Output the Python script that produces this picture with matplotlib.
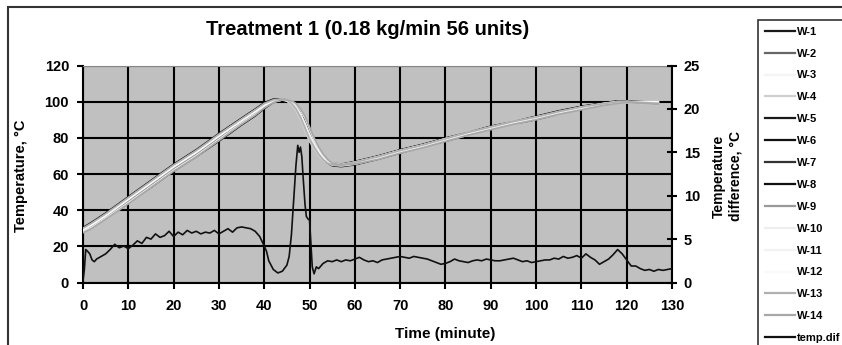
import matplotlib
matplotlib.use("Agg")
import matplotlib.pyplot as plt
from matplotlib.patches import Rectangle

plt.rcParams["font.family"] = ["Liberation Sans", "DejaVu Sans"]

# time axis for the W-series temperatures (minutes)
time_w = [0, 2, 5, 10, 15, 20, 25, 30, 35, 38, 40, 42, 44, 45, 46, 47, 48, 49, 50, 51,
          52, 53, 54, 55, 57, 60, 65, 70, 75, 80, 85, 90, 95, 100, 105, 110, 115, 118, 120, 124, 127]

w1 = [30, 33, 38, 47, 56, 65, 73, 82, 90, 95, 99, 101, 101.5, 101, 99, 96, 92, 86, 80, 75,
      71, 68, 66, 65, 65, 66, 69, 72.5, 76, 79, 82.5, 86, 88.5, 91, 94, 96.5, 99, 100, 100, 99.5, 99]
w2 = [29, 32, 37, 46, 55, 64, 72, 81, 89.5, 94.5, 98.5, 100.5, 101.5, 101, 100, 98, 95, 90, 84, 78,
      73, 69, 67, 65.5, 65, 66, 69, 72, 75.5, 79, 82, 85.5, 88, 91, 93.5, 96.5, 98.5, 99.5, 100, 99.5, 99]
w3 = [28, 31, 36, 44, 53, 62, 70, 79, 88, 93, 97, 100, 101, 101, 100, 97, 93, 87, 81, 76,
      72, 69, 66.5, 65, 64.5, 65.5, 68.5, 72, 75, 78.5, 82, 85, 88, 90.5, 93.5, 96, 98.5, 99.5, 99.5, 99, 98.5]
w4 = [29.5, 32.5, 37.5, 46.5, 55.5, 64.5, 72.5, 81.5, 90, 95, 98.5, 100.5, 101, 100.5, 98, 95, 90, 84, 78, 74,
      70, 67.5, 66, 65, 65, 66.5, 69.5, 73, 76, 79.5, 83, 86, 89, 91.5, 94.5, 97, 99, 100, 100, 99.5, 99]
w5 = [28.5, 31, 35.5, 44, 52.5, 61.5, 69.5, 78, 87, 92, 96, 99.5, 101, 101, 100.5, 98.5, 95, 90, 83, 77,
      72, 68.5, 66, 64.5, 64, 65, 68, 71.5, 75, 78, 81.5, 85, 87.5, 90, 93, 96, 98, 99, 99.5, 99, 98.5]
w6 = [30.5, 33.5, 38.5, 47.5, 56.5, 65.5, 73.5, 82.5, 91, 96, 99.5, 101.5, 101.5, 100.5, 98.5, 95.5, 91, 85, 79, 74.5,
      70.5, 68, 66, 65, 65.5, 67, 70, 73.5, 76.5, 80, 83, 86.5, 89, 92, 95, 97.5, 99.5, 100.5, 100.5, 100, 99.5]
w7 = [29, 31.5, 36.5, 45, 54, 63, 71, 80, 88.5, 93.5, 97.5, 100, 101, 101, 100, 97.5, 94, 88, 82, 77,
      72.5, 69, 66.5, 65, 64.5, 65.5, 68.5, 72, 75, 78.5, 82, 85, 88, 90.5, 93.5, 96, 98.5, 99.5, 99.5, 99, 98.5]
w8 = [30, 32.5, 37.5, 46.5, 55.5, 64.5, 72.5, 81, 89.5, 94.5, 98.5, 101, 101.5, 101, 99.5, 97, 93, 87, 81, 76,
      71.5, 68.5, 66.5, 65.5, 65, 66, 69, 72.5, 76, 79, 82.5, 85.5, 88.5, 91, 94, 96.5, 99, 100, 100, 99.5, 99]
w9 = [28.5, 31, 36, 45, 54, 63, 71, 80, 88.5, 93.5, 97.5, 100, 101, 100.5, 99, 96.5, 92.5, 87, 81, 76,
      72, 69, 67, 66, 65.5, 66.5, 69.5, 73, 76, 79, 82.5, 85.5, 88.5, 91, 94, 96.5, 98.5, 99.5, 100, 99.5, 99]
w10 = [29.5, 32, 37, 46, 55, 64, 72, 81, 89.5, 94.5, 98.5, 100.5, 101.5, 101, 99.5, 97, 93.5, 88, 82, 77,
       72.5, 69, 67, 65.5, 65, 66, 69, 72.5, 75.5, 79, 82, 85.5, 88, 91, 94, 96.5, 98.5, 99.5, 100, 99.5, 99]
w11 = [28, 30.5, 35.5, 44, 53, 62, 70, 79, 88, 93, 97, 100, 101, 101, 100.5, 98.5, 95.5, 91, 85, 79,
       74, 70, 67.5, 66, 65, 65.5, 68.5, 72, 75, 78.5, 81.5, 85, 87.5, 90.5, 93, 96, 98, 99, 99.5, 99, 98.5]
w12 = [29, 32, 37, 46, 55, 64, 72, 81, 89.5, 94.5, 98, 100.5, 101, 100.5, 99, 96, 92, 86, 80, 75.5,
       71.5, 68.5, 66.5, 65.5, 65, 66.5, 69.5, 73, 76, 79.5, 82.5, 86, 88.5, 91.5, 94, 97, 99, 100, 100, 100, 100]
w13 = [30, 33, 38, 47, 56, 65, 73, 82, 90.5, 95.5, 99, 101, 101.5, 101, 99, 96, 91.5, 85.5, 79.5, 75,
       71, 68, 66, 65, 65, 66.5, 69.5, 73, 76, 79.5, 83, 86, 89, 91.5, 94.5, 97, 99, 100, 100, 99.5, 99]
w14 = [27.5, 30, 35, 43.5, 52.5, 61.5, 69.5, 78.5, 87.5, 92.5, 96.5, 99.5, 101, 101, 100.5, 99, 96, 92, 86, 80,
       75, 71, 68, 66, 65, 65.5, 68, 71.5, 74.5, 78, 81.5, 84.5, 87.5, 90, 93, 95.5, 98, 99, 99.5, 99, 98.5]

w_series = [w1, w2, w3, w4, w5, w6, w7, w8, w9, w10, w11, w12, w13, w14]
w_labels = ["W-1", "W-2", "W-3", "W-4", "W-5", "W-6", "W-7", "W-8",
            "W-9", "W-10", "W-11", "W-12", "W-13", "W-14"]
w_colors = ["#1a1a1a", "#666666", "#f4f4f4", "#cfcfcf", "#1a1a1a", "#111111", "#333333", "#111111",
            "#9a9a9a", "#eeeeee", "#f2f2f2", "#fafafa", "#b0b0b0", "#a8a8a8"]

# temperature difference (right axis)
time_dif = [0, 0.3, 0.6, 1, 1.5, 2, 2.5, 3, 4, 5,
            6, 7, 8, 9, 10, 11, 12, 13, 14, 15,
            16, 17, 18, 19, 20, 21, 22, 23, 24, 25,
            26, 27, 28, 29, 30, 31, 32, 33, 34, 35,
            36, 37, 38, 39, 40, 40.5, 41, 42, 43, 44,
            45, 45.5, 46, 46.5, 47, 47.4, 47.7, 48.0, 48.3, 48.6,
            49.0, 49.3, 49.7, 50, 50.3, 50.6, 51, 51.5, 52, 53,
            54, 55, 56, 57, 58, 59, 60, 61, 62, 63,
            64, 65, 66, 67, 68, 69, 70, 71, 72, 73,
            74, 75, 76, 77, 78, 79, 80, 81, 82, 83,
            84, 85, 86, 87, 88, 89, 90, 91, 92, 93,
            94, 95, 96, 97, 98, 99, 100, 101, 102, 103,
            104, 105, 106, 107, 108, 109, 110, 111, 112, 113,
            114, 115, 116, 117, 118, 119, 120, 121, 122, 123,
            124, 125, 126, 127, 128, 129, 130]
temp_dif = [0.2, 1.5, 3.8, 3.6, 3.3, 2.6, 2.4, 2.7, 3.0, 3.3,
            3.8, 4.4, 4.0, 4.2, 3.9, 4.3, 4.8, 4.5, 5.2, 5.0,
            5.6, 5.2, 5.4, 5.9, 5.3, 5.8, 5.5, 6.0, 5.7, 5.9,
            5.6, 5.8, 5.7, 6.0, 5.6, 5.9, 6.2, 5.8, 6.3, 6.4,
            6.3, 6.2, 5.9, 5.3, 4.2, 3.6, 2.5, 1.5, 1.1, 1.3,
            2.0, 3.0, 5.5, 9.5, 13.5, 15.8, 15.0, 15.6, 14.5, 12.0,
            9.0, 7.6, 7.3, 7.2, 4.5, 1.8, 1.0, 1.8, 1.6, 2.2,
            2.5, 2.4, 2.6, 2.4, 2.6, 2.5, 2.7, 2.9, 2.6, 2.4,
            2.5, 2.3, 2.6, 2.7, 2.8, 2.9, 3.0, 2.9, 2.8, 3.0,
            2.9, 2.8, 2.7, 2.5, 2.3, 2.1, 2.2, 2.4, 2.7, 2.5,
            2.4, 2.3, 2.5, 2.6, 2.5, 2.7, 2.6, 2.5, 2.5, 2.6,
            2.7, 2.8, 2.6, 2.4, 2.5, 2.3, 2.4, 2.5, 2.6, 2.6,
            2.8, 2.7, 3.0, 2.8, 2.9, 3.1, 2.8, 3.3, 2.9, 2.6,
            2.1, 2.4, 2.7, 3.2, 3.8, 3.3, 2.6, 1.9, 1.9, 1.6,
            1.4, 1.5, 1.3, 1.5, 1.4, 1.5, 1.6]

x_ticks = list(range(0, 131, 10))
y_ticks = list(range(0, 121, 20))
y2_ticks = list(range(0, 26, 5))

fig = plt.figure(figsize=(8.42, 3.45), dpi=100)
ax = fig.add_axes([83 / 842, 1 - 282.5 / 345, 589 / 842, 217 / 345])
ax2 = ax.twinx()

# outer chart frame (right and bottom edges run off the picture)
fig.patches.append(Rectangle((8 / 842, -0.2), 1.2, 1.2 - 7 / 345, transform=fig.transFigure,
                             fill=False, edgecolor="#333333", linewidth=1.5))

ax.set_facecolor("#c0c0c0")
handles = []
for vals, lab, col in zip(w_series, w_labels, w_colors):
    dark = col in ("#1a1a1a", "#111111", "#333333", "#666666")
    h, = ax.plot(time_w, vals, color=col, linewidth=1.0 if dark else 1.3,
                 zorder=2 if dark else 3, label=lab)
    handles.append(h)

hd, = ax2.plot(time_dif, temp_dif, color="#111111", linewidth=1.2, label="temp.dif", zorder=4)
handles.append(hd)

ax.set_xlim(0, 130)
ax.set_ylim(0, 120)
ax2.set_ylim(0, 25)
ax.set_xticks(x_ticks)
ax.set_yticks(y_ticks)
ax2.set_yticks(y2_ticks)

ax.set_axisbelow(True)
ax.grid(True, color="black", linewidth=1.5)

for s in ["left", "bottom"]:
    ax.spines[s].set_linewidth(1.5)
ax.spines["top"].set_color("#888888")
ax.spines["top"].set_linewidth(0.8)
ax.spines["right"].set_visible(False)
ax2.spines["right"].set_linewidth(1.5)
ax2.spines["top"].set_visible(False)
ax2.spines["left"].set_visible(False)
ax2.spines["bottom"].set_visible(False)

ax.tick_params(axis="x", direction="out", length=4, width=1.5, pad=8)
ax.tick_params(axis="y", direction="out", length=4, width=1.5, pad=6)
ax2.tick_params(axis="y", direction="inout", length=7, width=1.5, pad=5)
for lab in ax.get_xticklabels() + ax.get_yticklabels() + ax2.get_yticklabels():
    lab.set_fontsize(10.5)
    lab.set_fontweight("bold")

ax.set_title("Treatment 1 (0.18 kg/min 56 units)", fontsize=14.5, fontweight="bold", x=0.483, y=1.10)
ax.set_xlabel("Time (minute)", fontsize=11, fontweight="bold")
ax.xaxis.set_label_coords(0.615, -0.205)
ax.set_ylabel("Temperature, °C", fontsize=10.5, fontweight="bold")
ax.yaxis.set_label_coords(-0.093, 0.49)
ax2.set_ylabel("Temperature\ndifference, °C", fontsize=10, fontweight="bold", linespacing=1.3,
               rotation=90)
ax2.yaxis.set_label_coords(1.067, 0.49)

leg = fig.legend(handles=handles, loc="upper left", bbox_to_anchor=(758 / 842, 1 - 20 / 345),
                 fontsize=8, frameon=True, fancybox=False, handlelength=2.7, handletextpad=0.2,
                 labelspacing=1.07, borderpad=0.6, borderaxespad=0)
leg.get_frame().set_edgecolor("black")
leg.get_frame().set_linewidth(1.2)
for t in leg.get_texts():
    t.set_fontweight("bold")
for lh in leg.get_lines():
    lh.set_linewidth(1.6)

fig.savefig("out.png", dpi=100, facecolor="white")
